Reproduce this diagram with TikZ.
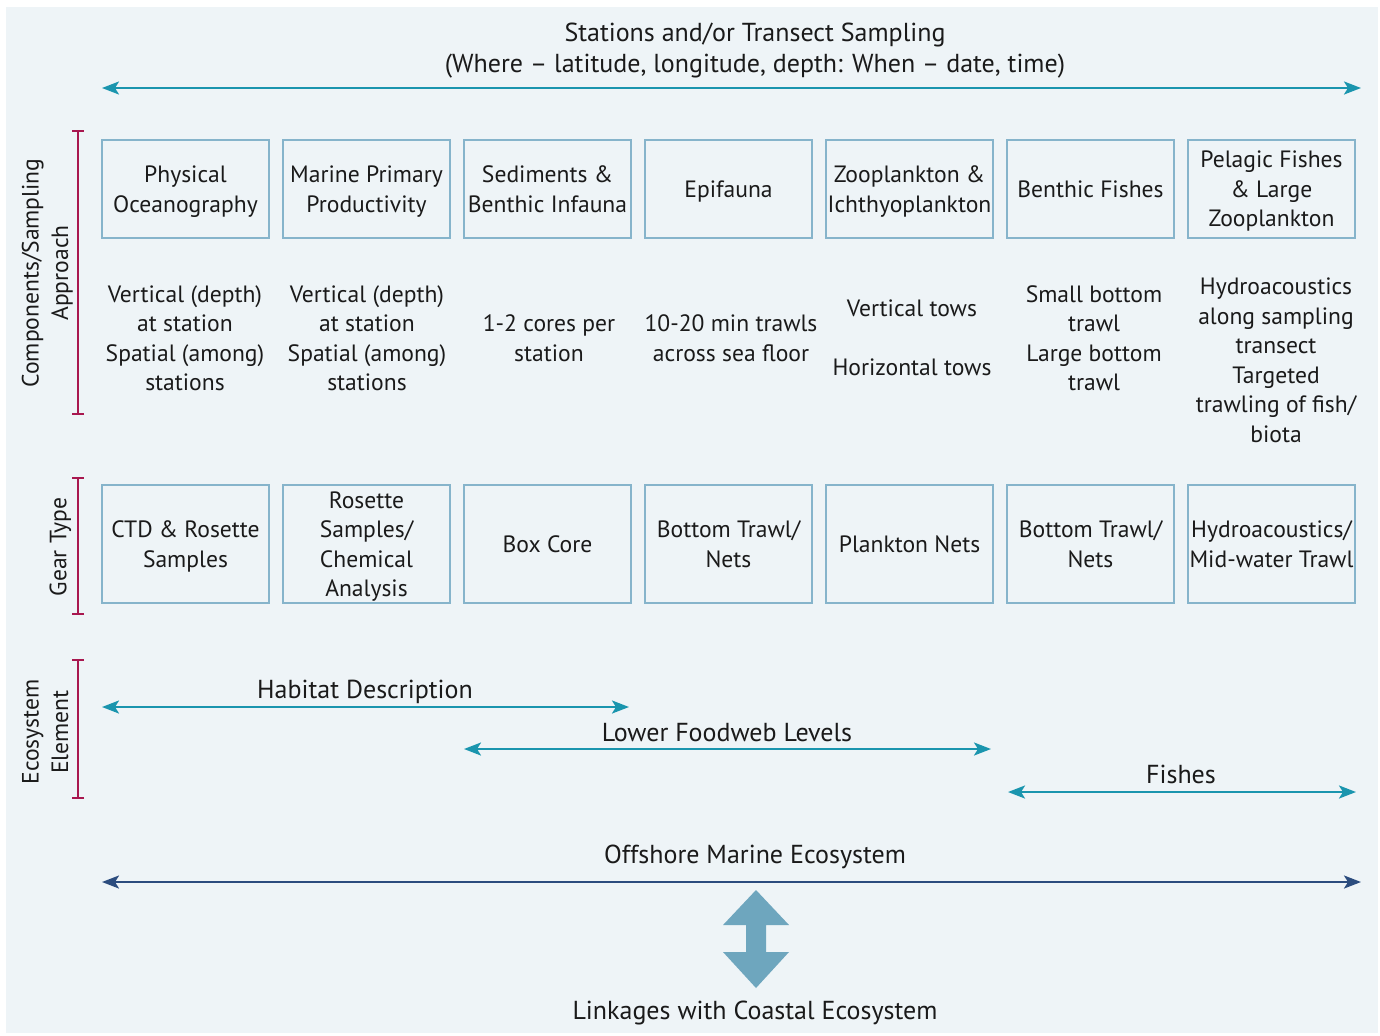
\documentclass[tikz,border=0pt]{standalone}
\usepackage{fontspec}
\setmainfont{PT Sans}
\usetikzlibrary{arrows.meta}
\definecolor{panelbg}{HTML}{EEF4F7}
\definecolor{spanteal}{HTML}{1A95AE}
\definecolor{boxline}{HTML}{86B4CB}
\definecolor{bracketred}{HTML}{A8174F}
\definecolor{navyline}{HTML}{2B4C7E}
\definecolor{bigarrow}{HTML}{6EA6BE}
\definecolor{inktext}{HTML}{1A1A1A}

\begin{document}
\begin{tikzpicture}[x=0.5pt,y=-0.5pt,
        every node/.style={font=\fontsize{11.8}{14.75}\selectfont, text=inktext, align=center, text depth=0pt},
        label/.style={font=\fontsize{13}{15.5}\selectfont},
        comp/.style={draw=boxline, line width=0.6pt, minimum width=83.5pt, minimum height=49pt, inner sep=0pt},
        gear/.style={comp, minimum height=59pt},
        span/.style={spanteal, line width=1.2pt, {Stealth[length=8.5pt,width=6.5pt,inset=2pt]}-{Stealth[length=8.5pt,width=6.5pt,inset=2pt]}},
        wholespan/.style={span, navyline},
        brace/.style={bracketred, line width=1.1pt, {Bar[width=6pt]}-{Bar[width=6pt]}}]
        \useasboundingbox (0,0) rectangle (1380,1035);
        \fill[panelbg] (6,7) rectangle (1378,1033);

        % sampling span
        \node[label] (stations) at (755,48) {Stations and/or Transect Sampling\\(Where -- latitude, longitude, depth: When -- date, time)};
        \coordinate (stL) at (102,88);
        \coordinate (stR) at (1361,88);
        \draw[span] (stL) -- (stR);

        % side brackets
        \coordinate (b1t) at (78,130); \coordinate (b1b) at (78,415);
        \coordinate (b2t) at (78,477); \coordinate (b2b) at (78,615);
        \coordinate (b3t) at (78,659); \coordinate (b3b) at (78,799);
        \draw[brace] (b1t) -- (b1b);
        \draw[brace] (b2t) -- (b2b);
        \draw[brace] (b3t) -- (b3b);
        \node[rotate=90] (approachlbl) at (45,273) {Components/Sampling\\Approach};
        \node[rotate=90] (gearlbl) at (58,547) {Gear Type};
        \node[rotate=90] (elementlbl) at (45,732) {Ecosystem\\Element};

        % components
        \node[comp] (phys) at (185.5,189) {Physical\\Oceanography};
        \node[comp] (prim) at (366.5,189) {Marine Primary\\Productivity};
        \node[comp] (sed) at (547.5,189) {Sediments \&\\Benthic Infauna};
        \node[comp] (epi) at (728.5,189) {Epifauna};
        \node[comp] (zoo) at (909.5,189) {Zooplankton \&\\Ichthyoplankton};
        \node[comp] (benth) at (1090.5,189) {Benthic Fishes};
        \node[comp] (pel) at (1271.5,189) {Pelagic Fishes\\\& Large\\Zooplankton};

        % sampling approach
        \node (physapp) at (185,338) {Vertical (depth)\\at station\\Spatial (among)\\stations};
        \node (primapp) at (367,338) {Vertical (depth)\\at station\\Spatial (among)\\stations};
        \node (sedapp) at (549,338) {1-2 cores per\\station};
        \node (epiapp) at (731,338) {10-20 min trawls\\across sea floor};
        \node (zooapp) at (912,338) {Vertical tows\\[14.75pt]Horizontal tows};
        \node (benthapp) at (1094,338) {Small bottom\\trawl\\Large bottom\\trawl};
        \node (pelapp) at (1276,360) {Hydroacoustics\\along sampling\\transect\\Targeted\\trawling of fish/\\biota};

        % gear type
        \node[gear] (physgear) at (185.5,544) {CTD \& Rosette\\Samples};
        \node[gear] (primgear) at (366.5,544) {Rosette\\Samples/\\Chemical\\Analysis};
        \node[gear] (sedgear) at (547.5,544) {Box Core};
        \node[gear] (epigear) at (728.5,544) {Bottom Trawl/\\Nets};
        \node[gear] (zoogear) at (909.5,544) {Plankton Nets};
        \node[gear] (benthgear) at (1090.5,544) {Bottom Trawl/\\Nets};
        \node[gear] (pelgear) at (1271.5,544) {Hydroacoustics/\\Mid-water Trawl};

        % ecosystem elements
        \node[label] (habitat) at (365,689) {Habitat Description};
        \coordinate (habL) at (102,707); \coordinate (habR) at (629,707);
        \draw[span] (habL) -- (habR);
        \node[label] (foodweb) at (727,732) {Lower Foodweb Levels};
        \coordinate (fwL) at (464,749); \coordinate (fwR) at (991,749);
        \draw[span] (fwL) -- (fwR);
        \node[label] (fishes) at (1181,774) {Fishes};
        \coordinate (fiL) at (1008,792); \coordinate (fiR) at (1356,792);
        \draw[span] (fiL) -- (fiR);

        % offshore and linkage
        \node[label] (offshore) at (755,854) {Offshore Marine Ecosystem};
        \coordinate (offL) at (102,882); \coordinate (offR) at (1361,882);
        \draw[wholespan] (offL) -- (offR);
        \fill[bigarrow] (756,890) -- (789,925) -- (766,925) -- (766,952) -- (789,952) -- (756,988)
                -- (723,952) -- (746,952) -- (746,925) -- (723,925) -- cycle;
        \node[label] (linkages) at (755,1010) {Linkages with Coastal Ecosystem};
\end{tikzpicture}
\end{document}
